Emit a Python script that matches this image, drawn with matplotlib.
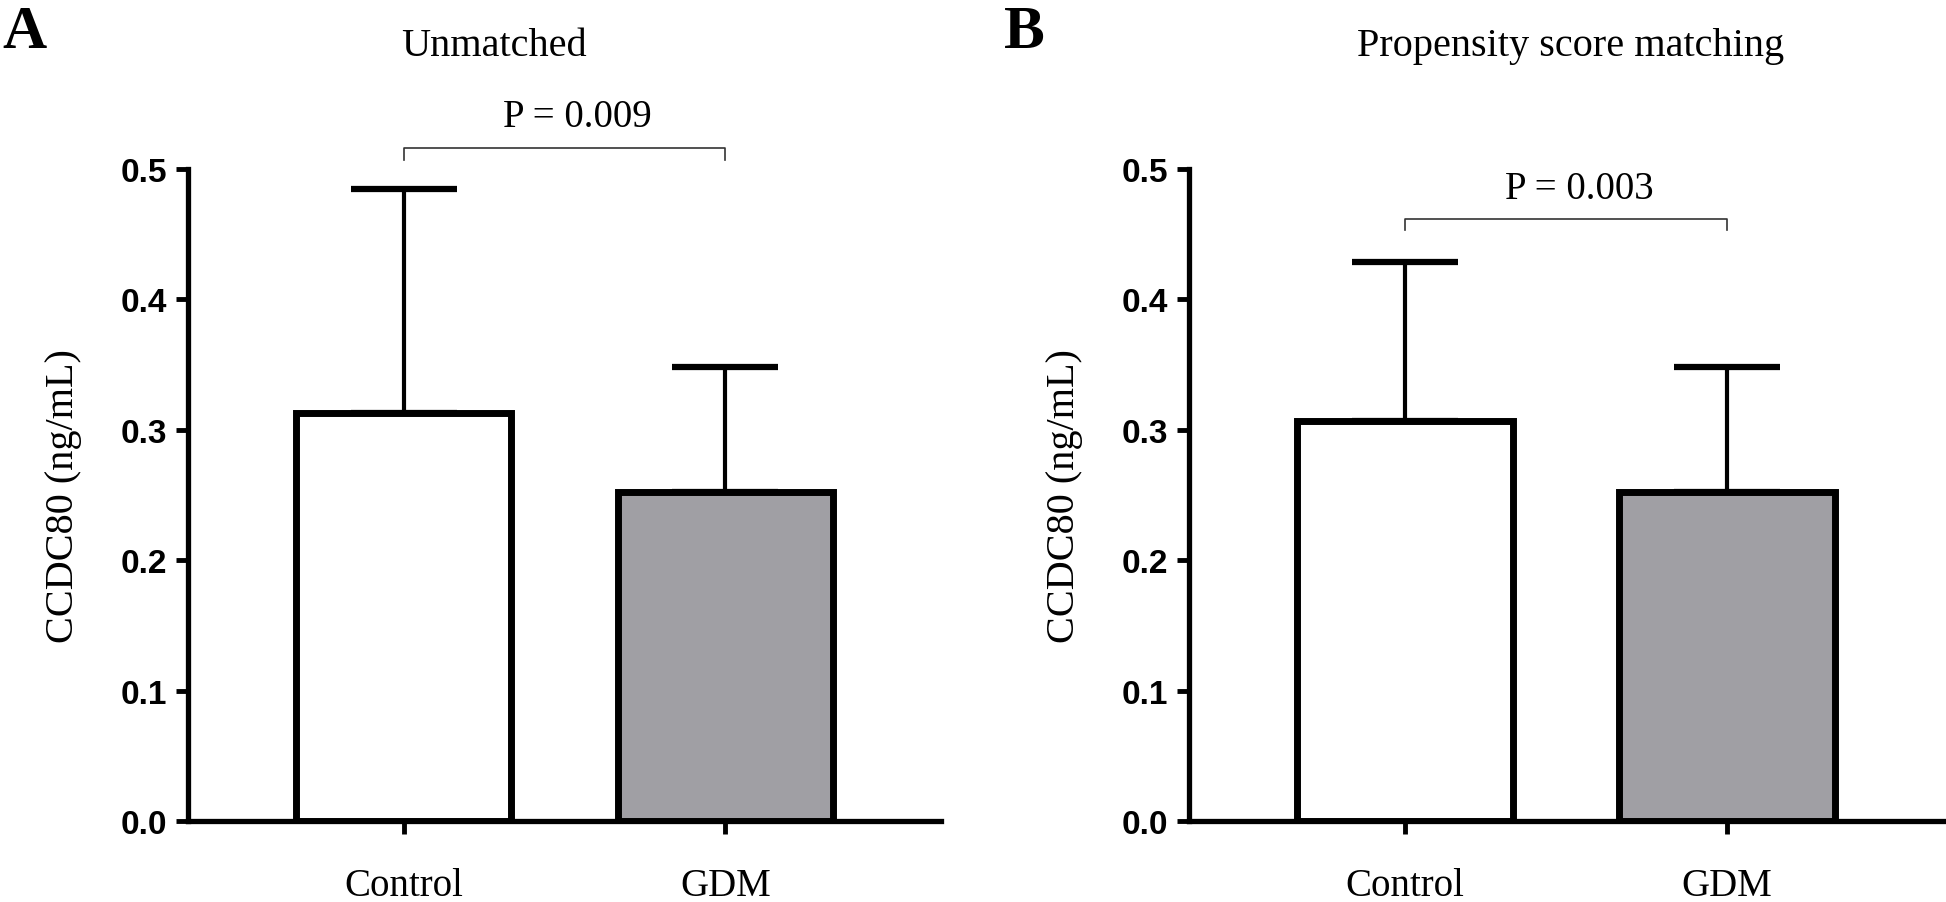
import matplotlib
matplotlib.use("Agg")
import matplotlib.pyplot as plt

# Data
groups = ["Control", "GDM"]
unmatched_mean = [0.313, 0.252]
unmatched_sd = [0.172, 0.096]
psm_mean = [0.307, 0.252]
psm_sd = [0.122, 0.096]
bar_colors = ["white", "#a09fa4"]
yticks = [0.0, 0.1, 0.2, 0.3, 0.4, 0.5]

serif = "Liberation Serif"
sans = "Liberation Sans"

fig = plt.figure(figsize=(19.46, 9.03), dpi=100)


def panel(rect, means, sds, title, title_x, letter, letter_x, p_text, p_y, br_y):
    ax = fig.add_axes(rect)
    x = [0, 1]
    ax.errorbar(x, means, yerr=[[0, 0], sds], fmt="none", ecolor="black",
                elinewidth=3, capsize=38, capthick=4.5, zorder=1)
    ax.bar(x, means, width=0.67, color=bar_colors, edgecolor="black",
           linewidth=5, zorder=2)
    ax.set_xlim(-0.67, 1.67)
    ax.set_ylim(0, 0.5)
    ax.set_yticks(yticks)
    ax.set_yticklabels(["%.1f" % t for t in yticks], fontfamily=sans,
                       fontweight="bold", fontsize=24)
    ax.set_xticks(x)
    ax.set_xticklabels(groups, fontfamily=serif, fontsize=28)
    ax.tick_params(axis="both", width=3.5, length=9, direction="out")
    ax.tick_params(axis="y", pad=6)
    ax.tick_params(axis="x", pad=24)
    for s in ["top", "right"]:
        ax.spines[s].set_visible(False)
    for s in ["left", "bottom"]:
        ax.spines[s].set_linewidth(3.8)
    ax.set_ylabel("CCDC80 (ng/mL)", fontfamily=serif, fontsize=29, labelpad=28)

    # significance bracket
    ax.plot([0, 0, 1, 1], [br_y - 0.009, br_y, br_y, br_y - 0.009],
            color="#333333", linewidth=1.2, clip_on=False)
    ax.text(0.54, p_y, p_text, fontfamily=serif, fontsize=28,
            ha="center", va="center")

    fig.text(title_x, 0.949, title, fontfamily=serif, fontsize=29,
             ha="center", va="center")
    fig.text(letter_x, 0.995, letter, fontfamily=serif, fontweight="bold",
             fontsize=44, ha="left", va="top")
    return ax


panel([0.0966, 0.0897, 0.387, 0.722], unmatched_mean, unmatched_sd,
      "Unmatched", 0.254, "A", 0.001, "P = 0.009", 0.54, 0.516)
panel([0.611, 0.0897, 0.3875, 0.722], psm_mean, psm_sd,
      "Propensity score matching", 0.807, "B", 0.516, "P = 0.003", 0.485, 0.462)

fig.savefig("out.png", dpi=100, facecolor="white")
